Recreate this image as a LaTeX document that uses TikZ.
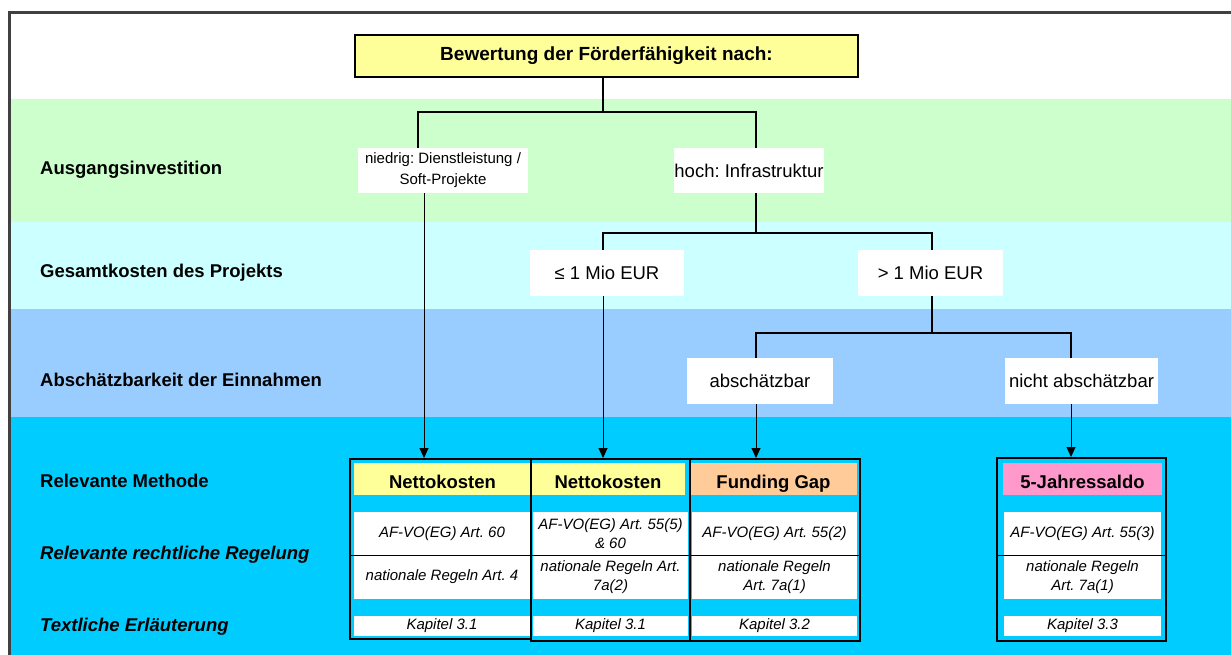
\documentclass[tikz,border=0pt]{standalone}
\usepackage{fontspec}
\setmainfont{Liberation Sans}
\frenchspacing
\usetikzlibrary{arrows.meta}
\definecolor{bandgreen}{HTML}{CCFFCC}
\definecolor{bandpale}{HTML}{CCFFFF}
\definecolor{bandblue}{HTML}{99CCFF}
\definecolor{bandcyan}{HTML}{00CCFF}
\definecolor{headyellow}{HTML}{FFFF99}
\definecolor{headorange}{HTML}{FFCC99}
\definecolor{headpink}{HTML}{FF99CC}
\definecolor{framegray}{HTML}{404040}
\begin{document}
\begin{tikzpicture}[x=1pt,y=-1pt,
    rowlabel/.style={anchor=west,inner sep=0pt,font=\bfseries\fontsize{18.5}{22}\selectfont},
    choice/.style={fill=white,inner sep=0pt,minimum height=45pt,font=\fontsize{18.5}{22}\selectfont},
    methodhead/.style={inner sep=0pt,minimum height=32pt,text height=18pt,text depth=0pt,font=\bfseries\fontsize{18.5}{22}\selectfont},
    legal/.style={fill=white,inner sep=0pt,align=center,font=\itshape\fontsize{15}{19}\selectfont},
    colbox/.style={draw,line width=2pt,inner sep=0pt},
    branch/.style={line width=1.5pt}]
      \useasboundingbox (0,0) rectangle (1231,655);
      % bands
      \fill[bandgreen] (10,99) rectangle (1231,222);
      \fill[bandpale] (10,222) rectangle (1231,309);
      \fill[bandblue] (10,309) rectangle (1231,417);
      \fill[bandcyan] (10,417) rectangle (1231,655);
      \draw[framegray,line width=2.5pt] (9.5,655) -- (9.5,12.5) -- (1231,12.5);
      % row labels
      \node[rowlabel] (invest) at (40,170) {Ausgangsinvestition};
      \node[rowlabel] (kosten) at (40,273) {Gesamtkosten des Projekts};
      \node[rowlabel] (einnahmen) at (40,380) {Abschätzbarkeit der Einnahmen};
      \node[rowlabel] (methode) at (40,481) {Relevante Methode};
      \node[rowlabel,font=\bfseries\itshape\fontsize{18.5}{22}\selectfont] (regelung) at (40,555) {Relevante rechtliche Regelung};
      \node[rowlabel,font=\bfseries\itshape\fontsize{18.5}{22}\selectfont] (erlaeuterung) at (40,627) {Textliche Erläuterung};
      % tree
      \node[draw,fill=headyellow,line width=1.5pt,inner sep=0pt,minimum width=503pt,minimum height=42pt,
        font=\bfseries\fontsize{19}{22}\selectfont] (bewertung) at (606.5,56) {Bewertung der Förderfähigkeit nach:};
      \node[choice,minimum width=170pt,align=center,font=\fontsize{15}{21}\selectfont] (niedrig) at (443,170.5) {niedrig: Dienstleistung /\\Soft-Projekte};
      \node[choice,minimum width=128pt] (hoch) at (749,170.5) {hoch: Infrastruktur};
      \node[choice,minimum width=154pt,minimum height=46pt] (klein) at (607,273) {≤ 1 Mio EUR};
      \node[choice,minimum width=145pt,minimum height=46pt] (gross) at (930.5,273) {> 1 Mio EUR};
      \node[choice,minimum width=146pt,minimum height=46pt] (abs) at (760,381) {abschätzbar};
      \node[choice,minimum width=153pt,minimum height=46pt] (nichtabs) at (1081.5,381) {nicht abschätzbar};
      \coordinate (fork1) at (603,112);
      \coordinate (fork2) at (756,233);
      \coordinate (fork3) at (932,333);
      \begin{scope}[branch]
        \draw ([xshift=-3.5pt]bewertung.south) -- (fork1);
        \draw ([xshift=-25pt]niedrig.north) |- ([xshift=7pt]hoch.north |- fork1) -- ([xshift=7pt]hoch.north);
        \draw ([xshift=7pt]hoch.south) -- (fork2);
        \draw ([xshift=-4pt]klein.north) |- ([xshift=1.5pt]gross.north |- fork2) -- ([xshift=1.5pt]gross.north);
        \draw ([xshift=1.5pt]gross.south) -- (fork3);
        \draw ([xshift=-4pt]abs.north) |- ([xshift=-10.5pt]nichtabs.north |- fork3) -- ([xshift=-10.5pt]nichtabs.north);
      \end{scope}
      % methods
      \node[methodhead,fill=headyellow,minimum width=177pt] (netto1) at (442.5,479) {Nettokosten};
      \node[methodhead,fill=headyellow,minimum width=154pt] (netto2) at (608,479) {Nettokosten};
      \node[methodhead,fill=headorange,minimum width=167pt] (gap) at (773.5,479) {Funding Gap};
      \node[methodhead,fill=headpink,minimum width=159pt] (saldo) at (1082.5,479) {5-Jahressaldo};
      \node[legal,minimum width=176pt,minimum height=43pt] (vo1) at (442,533.5) {AF-VO(EG) Art. 60};
      \node[legal,minimum width=155pt,minimum height=43pt] (vo2) at (610.5,533.5) {AF-VO(EG) Art. 55(5)\\\& 60};
      \node[legal,minimum width=165pt,minimum height=43pt] (vo3) at (774.5,533.5) {AF-VO(EG) Art. 55(2)};
      \node[legal,minimum width=157pt,minimum height=43pt] (vo4) at (1082.5,533.5) {AF-VO(EG) Art. 55(3)};
      \node[legal,minimum width=176pt,minimum height=44pt] (nat1) at (442,577) {nationale Regeln Art. 4};
      \node[legal,minimum width=155pt,minimum height=44pt] (nat2) at (610.5,577) {nationale Regeln Art.\\7a(2)};
      \node[legal,minimum width=165pt,minimum height=44pt] (nat3) at (774.5,577) {nationale Regeln\\Art. 7a(1)};
      \node[legal,minimum width=157pt,minimum height=44pt] (nat4) at (1082.5,577) {nationale Regeln\\Art. 7a(1)};
      \node[legal,minimum width=176pt,minimum height=20pt] (kap1) at (442,626) {Kapitel 3.1};
      \node[legal,minimum width=155pt,minimum height=20pt] (kap2) at (610.5,626) {Kapitel 3.1};
      \node[legal,minimum width=165pt,minimum height=20pt] (kap3) at (774.5,626) {Kapitel 3.2};
      \node[legal,minimum width=157pt,minimum height=20pt] (kap4) at (1082.5,626) {Kapitel 3.3};
      \node[colbox,minimum width=181pt,minimum height=180pt] (col1) at (440.5,549) {};
      \node[colbox,minimum width=159pt,minimum height=182pt] (col2) at (610.5,550) {};
      \node[colbox,minimum width=170pt,minimum height=182pt] (col3) at (775,550) {};
      \node[colbox,minimum width=169pt,minimum height=183pt] (col4) at (1081.5,549.5) {};
      \draw[line width=1pt] (col1.west |- vo1.south) -- (col3.east |- vo3.south);
      \draw[line width=1pt] (col4.west |- vo4.south) -- (col4.east |- vo4.south);
      % arrows
      \begin{scope}[line width=1pt,-{Triangle[length=10pt,width=9pt]}]
        \draw ([xshift=-19pt]niedrig.south) -- ([xshift=-19pt]niedrig.south |- col1.north);
        \draw ([xshift=-4pt]klein.south) -- ([xshift=-4pt]klein.south |- col2.north);
        \draw ([xshift=-4pt]abs.south) -- ([xshift=-4pt]abs.south |- col3.north);
        \draw ([xshift=-10.5pt]nichtabs.south) -- ([xshift=-10.5pt]nichtabs.south |- col4.north);
      \end{scope}
    \end{tikzpicture}
\end{document}
